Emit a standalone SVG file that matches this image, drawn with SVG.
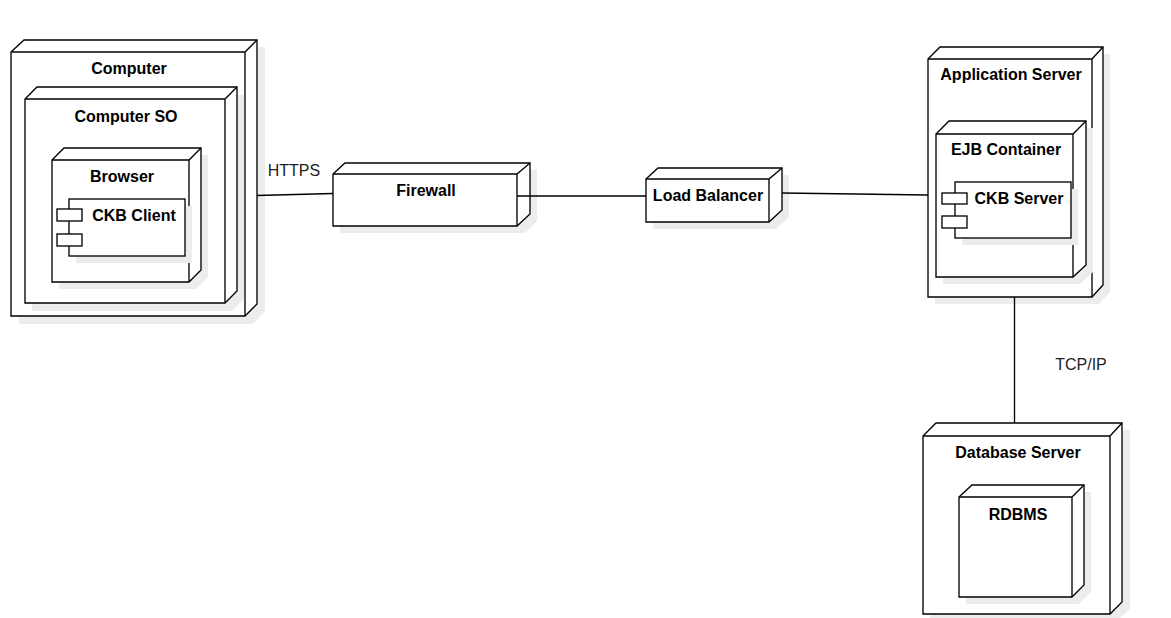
<svg xmlns="http://www.w3.org/2000/svg" width="1171" height="618" viewBox="0 0 1171 618">
<style>
.sh{fill:#ececec;stroke:none}
.nd{fill:#fff;stroke:#000;stroke-width:1.33;stroke-linejoin:miter}
.ln{fill:none;stroke:#000;stroke-width:1.33}
.t{font-family:"Liberation Sans",Arial,sans-serif;font-size:16px;font-weight:bold;fill:#000;text-anchor:middle;dominant-baseline:central}
.lbl{font-family:"Liberation Sans",Arial,sans-serif;font-size:16px;fill:#222;text-anchor:middle;dominant-baseline:central}
</style>
<rect width="1171" height="618" fill="#fff"/>

<g id="computer">
<path class="sh" d="M19,60 L32,47 L265,47 L265,311 L253,324 L19,324 Z"/>
<path class="nd" d="M11,52 L24,40 L257,40 L257,304 L245,316 L11,316 Z"/>
<path class="ln" d="M11,52 L245,52 L257,40 M245,52 L245,316"/>
<text class="t" x="129" y="68">Computer</text>
</g>

<g id="computer-so">
<path class="sh" d="M32,107 L44,95 L244,95 L244,299 L232,311 L32,311 Z"/>
<path class="nd" d="M25,99 L37,87 L237,87 L237,291 L225,303 L25,303 Z"/>
<path class="ln" d="M25,99 L225,99 L237,87 M225,99 L225,303"/>
<text class="t" x="126" y="116">Computer SO</text>
</g>

<g id="browser">
<path class="sh" d="M59,167 L71,155 L208,155 L208,277 L196,289 L59,289 Z"/>
<path class="nd" d="M52,160 L64,148 L201,148 L201,270 L189,282 L52,282 Z"/>
<path class="ln" d="M52,160 L189,160 L201,148 M189,160 L189,282"/>
<text class="t" x="122" y="176">Browser</text>
</g>

<g id="ckb-client">
<rect class="sh" x="76" y="206" width="116" height="57"/>
<rect class="nd" x="69" y="199" width="116" height="57"/>
<rect class="nd" x="57" y="209" width="25" height="12"/>
<rect class="nd" x="57" y="234" width="25" height="12"/>
<text class="t" x="134" y="215">CKB Client</text>
</g>

<g id="firewall">
<path class="sh" d="M340,182 L352,170 L537,170 L537,221 L525,233 L340,233 Z"/>
<path class="nd" d="M333,174 L345,163 L530,163 L530,214 L517,226 L333,226 Z"/>
<path class="ln" d="M333,174 L517,174 L530,163 M517,174 L517,226"/>
<text class="t" x="426" y="190">Firewall</text>
</g>

<g id="load-balancer">
<path class="sh" d="M653,186 L665,175 L789,175 L789,217 L776,229 L653,229 Z"/>
<path class="nd" d="M646,179 L658,168 L782,168 L782,210 L769,222 L646,222 Z"/>
<path class="ln" d="M646,179 L769,179 L782,168 M769,179 L769,222"/>
<text class="t" x="708" y="195">Load Balancer</text>
</g>

<g id="application-server">
<path class="sh" d="M935,66 L947,54 L1110,54 L1110,292 L1099,304 L935,304 Z"/>
<path class="nd" d="M928,59 L940,47 L1103,47 L1103,285 L1092,297 L928,297 Z"/>
<path class="ln" d="M928,59 L1092,59 L1103,47 M1092,59 L1092,297"/>
<text class="t" x="1011" y="74">Application Server</text>
</g>

<g id="ejb-container">
<path class="sh" d="M943,141 L956,128 L1093,128 L1093,272 L1080,284 L943,284 Z"/>
<path class="nd" d="M936,134 L949,121 L1086,121 L1086,265 L1073,277 L936,277 Z"/>
<path class="ln" d="M936,134 L1073,134 L1086,121 M1073,134 L1073,277"/>
<text class="t" x="1006" y="149">EJB Container</text>
</g>

<g id="ckb-server">
<rect class="sh" x="962" y="189" width="116" height="56"/>
<rect class="nd" x="955" y="182" width="116" height="56"/>
<rect class="nd" x="942" y="193" width="25" height="11"/>
<rect class="nd" x="942" y="216" width="25" height="12"/>
<text class="t" x="1019" y="198">CKB Server</text>
</g>

<g id="database-server">
<path class="sh" d="M930,443 L943,430 L1130,430 L1130,609 L1117,621 L930,621 Z"/>
<path class="nd" d="M923,436 L936,423 L1122,423 L1122,602 L1110,614 L923,614 Z"/>
<path class="ln" d="M923,436 L1110,436 L1122,423 M1110,436 L1110,614"/>
<text class="t" x="1018" y="452">Database Server</text>
</g>

<g id="rdbms">
<path class="sh" d="M966,504 L979,492 L1091,492 L1091,592 L1079,604 L966,604 Z"/>
<path class="nd" d="M959,497 L972,485 L1084,485 L1084,585 L1072,597 L959,597 Z"/>
<path class="ln" d="M959,497 L1072,497 L1084,485 M1072,497 L1072,597"/>
<text class="t" x="1018" y="514">RDBMS</text>
</g>

<g id="connectors">
<path class="ln" d="M257,195.5 L333,193.5"/>
<path class="ln" d="M517,196 L646,196"/>
<path class="ln" d="M782,193 L928,195"/>
<path class="ln" d="M1014.5,297 L1014.5,423"/>
<text class="lbl" x="294" y="170">HTTPS</text>
<text class="lbl" x="1081" y="364">TCP/IP</text>
</g>
</svg>
